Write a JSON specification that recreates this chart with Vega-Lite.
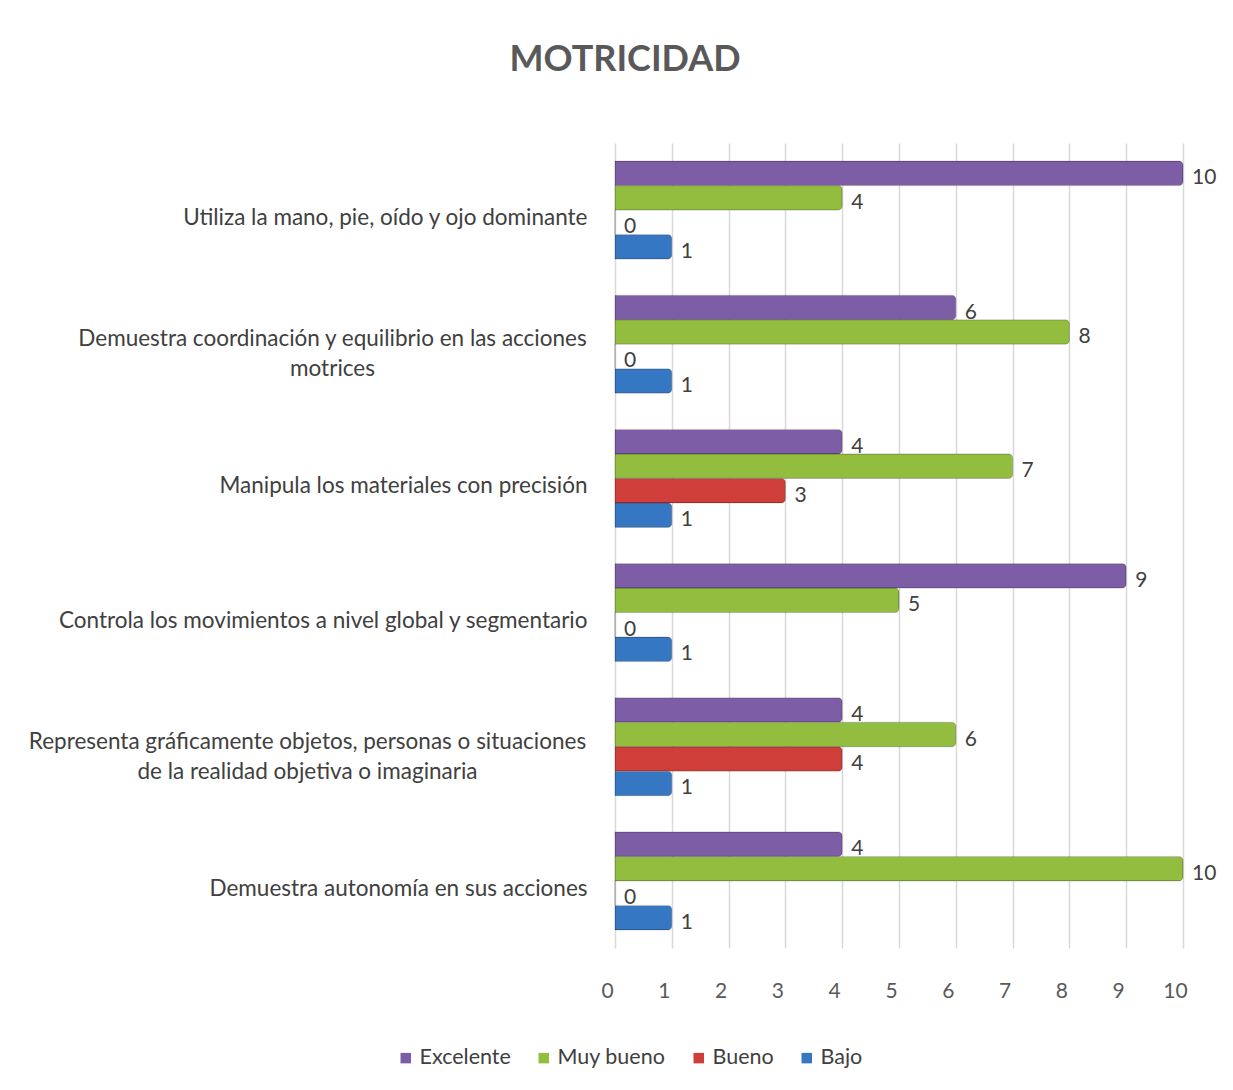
{
  "$schema": "https://vega.github.io/schema/vega-lite/v6.json",
  "autosize": {"type": "none"},
  "width": 568,
  "height": 805,
  "padding": {"left": 615, "top": 143, "right": 50, "bottom": 142},
  "background": "white",
  "title": {
    "text": "MOTRICIDAD",
    "font": "Lato",
    "fontSize": 36,
    "fontWeight": "bold",
    "color": "#595959",
    "anchor": "middle",
    "dx": -274,
    "offset": 64
  },
  "data": {
    "values": [
      {"criterio": "Utiliza la mano, pie, oído y ojo dominante", "nivel": "Excelente", "valor": 10},
      {"criterio": "Utiliza la mano, pie, oído y ojo dominante", "nivel": "Muy bueno", "valor": 4},
      {"criterio": "Utiliza la mano, pie, oído y ojo dominante", "nivel": "Bueno", "valor": 0},
      {"criterio": "Utiliza la mano, pie, oído y ojo dominante", "nivel": "Bajo", "valor": 1},
      {"criterio": "Demuestra coordinación y equilibrio en las acciones motrices", "nivel": "Excelente", "valor": 6},
      {"criterio": "Demuestra coordinación y equilibrio en las acciones motrices", "nivel": "Muy bueno", "valor": 8},
      {"criterio": "Demuestra coordinación y equilibrio en las acciones motrices", "nivel": "Bueno", "valor": 0},
      {"criterio": "Demuestra coordinación y equilibrio en las acciones motrices", "nivel": "Bajo", "valor": 1},
      {"criterio": "Manipula los materiales con precisión", "nivel": "Excelente", "valor": 4},
      {"criterio": "Manipula los materiales con precisión", "nivel": "Muy bueno", "valor": 7},
      {"criterio": "Manipula los materiales con precisión", "nivel": "Bueno", "valor": 3},
      {"criterio": "Manipula los materiales con precisión", "nivel": "Bajo", "valor": 1},
      {"criterio": "Controla los movimientos a nivel global y segmentario", "nivel": "Excelente", "valor": 9},
      {"criterio": "Controla los movimientos a nivel global y segmentario", "nivel": "Muy bueno", "valor": 5},
      {"criterio": "Controla los movimientos a nivel global y segmentario", "nivel": "Bueno", "valor": 0},
      {"criterio": "Controla los movimientos a nivel global y segmentario", "nivel": "Bajo", "valor": 1},
      {"criterio": "Representa gráficamente objetos, personas o situaciones de la realidad objetiva o imaginaria", "nivel": "Excelente", "valor": 4},
      {"criterio": "Representa gráficamente objetos, personas o situaciones de la realidad objetiva o imaginaria", "nivel": "Muy bueno", "valor": 6},
      {"criterio": "Representa gráficamente objetos, personas o situaciones de la realidad objetiva o imaginaria", "nivel": "Bueno", "valor": 4},
      {"criterio": "Representa gráficamente objetos, personas o situaciones de la realidad objetiva o imaginaria", "nivel": "Bajo", "valor": 1},
      {"criterio": "Demuestra autonomía en sus acciones", "nivel": "Excelente", "valor": 4},
      {"criterio": "Demuestra autonomía en sus acciones", "nivel": "Muy bueno", "valor": 10},
      {"criterio": "Demuestra autonomía en sus acciones", "nivel": "Bueno", "valor": 0},
      {"criterio": "Demuestra autonomía en sus acciones", "nivel": "Bajo", "valor": 1}
    ]
  },
  "encoding": {
    "y": {
      "field": "criterio",
      "type": "nominal",
      "sort": null,
      "scale": {"paddingInner": 0.27, "paddingOuter": 0.135},
      "axis": {
        "title": null,
        "domain": false,
        "ticks": false,
        "labelFont": "Lato",
        "labelFontSize": 22.5,
        "labelColor": "#404040",
        "labelAlign": {"expr": "indexof(datum.value, 'motrices') >= 0 || indexof(datum.value, 'imaginaria') >= 0 ? 'center' : 'right'"},
        "labelPadding": {"expr": "indexof(datum.value, 'motrices') >= 0 ? 283 : indexof(datum.value, 'imaginaria') >= 0 ? 308 : 28"},
        "labelLimit": 0,
        "labelOffset": {"expr": "indexof(datum.value, 'motrices') >= 0 || indexof(datum.value, 'imaginaria') >= 0 ? -5 : 8"},
        "labelLineHeight": 30,
        "labelExpr": "datum.value == 'Demuestra coordinación y equilibrio en las acciones motrices' ? ['Demuestra coordinación y equilibrio en las acciones', 'motrices'] : datum.value == 'Representa gráficamente objetos, personas o situaciones de la realidad objetiva o imaginaria' ? ['Representa gráficamente objetos, personas o situaciones', 'de la realidad objetiva o imaginaria'] : datum.value"
      }
    },
    "yOffset": {
      "field": "nivel",
      "type": "nominal",
      "sort": ["Excelente", "Muy bueno", "Bueno", "Bajo"],
      "scale": {"paddingInner": 0, "paddingOuter": 0}
    },
    "x": {
      "field": "valor",
      "type": "quantitative",
      "scale": {"domain": [0, 10], "nice": false},
      "axis": {
        "title": null,
        "values": [0, 1, 2, 3, 4, 5, 6, 7, 8, 9, 10],
        "domain": false,
        "ticks": false,
        "grid": true,
        "gridColor": "#D9D9D9",
        "gridWidth": 1.5,
        "labelFont": "Lato",
        "labelFontSize": 21,
        "labelColor": "#595959",
        "labelPadding": 32,
        "labelFlush": false,
        "labelOffset": -8
      }
    }
  },
  "layer": [
    {
      "mark": {"type": "bar", "cornerRadiusEnd": 4, "stroke": "#00000030", "strokeWidth": 1},
      "encoding": {
        "color": {
          "field": "nivel",
          "type": "nominal",
          "scale": {
            "domain": ["Excelente", "Muy bueno", "Bueno", "Bajo"],
            "range": ["#7D5DA6", "#92BD3F", "#CF3E38", "#3677C4"]
          },
          "legend": {
            "title": null,
            "orient": "none",
            "direction": "horizontal",
            "legendX": -220,
            "legendY": 904,
            "symbolType": "square",
            "symbolSize": 110,
            "symbolStrokeWidth": 0,
            "labelFont": "Lato",
            "labelFontSize": 21.5,
            "labelColor": "#404040",
            "labelOffset": 3,
            "columnPadding": 22,
            "symbolOffset": 0
          }
        }
      }
    },
    {
      "mark": {"type": "text", "align": "left", "baseline": "middle", "dx": 9, "dy": 5, "font": "Lato", "fontSize": 21, "color": "#404040"},
      "encoding": {
        "text": {"field": "valor", "type": "quantitative"}
      }
    }
  ],
  "config": {
    "view": {"stroke": null}
  }
}
